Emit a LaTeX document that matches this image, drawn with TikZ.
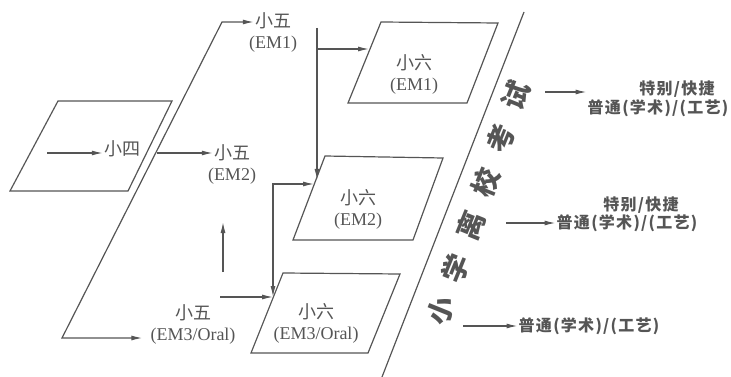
\documentclass[tikz,border=0pt]{standalone}
\usepackage{fontspec}
\setmainfont{Liberation Serif}
\newfontfamily\cjk{Noto Sans CJK SC}
\newfontfamily\cjkwide[LetterSpace=8]{Noto Sans CJK SC}
\usetikzlibrary{arrows.meta,positioning}
\definecolor{ink}{HTML}{555555}

\begin{document}
\begin{tikzpicture}[x=1pt,y=-1pt,
		line/.style={draw=ink, line width=1.2pt},
		arrow/.style={line, -{Latex[length=11pt,width=5pt]}},
		twoway/.style={line, {Latex[length=11pt,width=5pt]}-{Latex[length=11pt,width=5pt]}},
		lab/.style={text=ink, inner sep=1pt, font=\fontsize{18}{18}\selectfont\cjk},
		sub/.style={text=ink, inner sep=1pt, font=\fontsize{18}{18}\selectfont},
		route/.style={text=ink, inner sep=1pt, font=\fontsize{16}{16}\selectfont\cjkwide\bfseries},
		exam/.style={text=ink, inner sep=0pt, rotate=68, font=\fontsize{28}{28}\selectfont\cjk\bfseries},
	]
		\useasboundingbox (0,0) rectangle (731,377);
		
		% boxes
		\draw[line] (58,101) -- (172,101) -- (128,191) -- (10,191) -- cycle;
		\draw[line] (381,22) -- (498,23) -- (467,103) -- (348,103) -- cycle;
		\draw[line] (325,156) -- (443,158) -- (413,240) -- (293,240) -- cycle;
		\draw[line] (283,273) -- (400,274) -- (368,353) -- (251,353) -- cycle;
		\draw[line] (524,12) -- (382,377);
		
		% labels
		\node (p4) [lab] at (122,149) {小四};
		\node (p5a) [lab] at (273,21) {小五};
		\node (p5ae) [sub, below=4pt of p5a] {(EM1)};
		\node (p5b) [lab] at (232,153) {小五};
		\node (p5be) [sub, below=4pt of p5b] {(EM2)};
		\node (p5c) [lab] at (193,313) {小五};
		\node (p5ce) [sub, below=4pt of p5c] {(EM3/Oral)};
		\node (p6a) [lab] at (414,63) {小六};
		\node (p6ae) [sub, below=4pt of p6a] {(EM1)};
		\node (p6b) [lab] at (358,198) {小六};
		\node (p6be) [sub, below=4pt of p6b] {(EM2)};
		\node (p6c) [lab] at (316,312) {小六};
		\node (p6ce) [sub, below=4pt of p6c] {(EM3/Oral)};
		
		\foreach \ch [count=\i from 0] in {小,学,离,校,考,试}
			\node (ex\i) [exam] at ({441+15*\i},{311-43*\i}) {\ch};
		
		\node (r1a) [route] at (677,89) {特别/快捷};
		\node (r1b) [route] at (658,108) {普通(学术)/(工艺)};
		\node (r2a) [route] at (641,205) {特别/快捷};
		\node (r2b) [route] at (627,223) {普通(学术)/(工艺)};
		\node (r3) [route] at (589,326) {普通(学术)/(工艺)};
		
		% connectors
		\coordinate (in4) at (47,153);
		\coordinate (ztop) at (222,22);
		\coordinate (zbot) at (62,338);
		\coordinate (zmid) at (157,153);
		\coordinate (upa) at (223,272);
		\coordinate (upb) at (223,222);
		\coordinate (go3) at (220,297);
		\coordinate (in3) at (273,297);
		\coordinate (in2) at (314,184);
		\coordinate (top2) at (317,28);
		\coordinate (br1) at (317,49);
		\coordinate (in2b) at (317,180);
		\coordinate (in1) at (369,49);
		\coordinate (out1) at (545,92);
		\coordinate (out2) at (506,223);
		\coordinate (out3) at (463,326);
		
		\draw[arrow] (in4) -- (in4 -| p4.west);
		\draw[twoway] ([xshift=-7pt]zbot -| p5ce.west) -- (zbot) -- (ztop) -- (ztop -| p5a.west);
		\draw[arrow] (zmid) -- (zmid -| p5b.west);
		\draw[arrow] (upa) -- (upb);
		\draw[arrow] (go3) -- (in3);
		\draw[twoway] (in2) -| (in3);
		\draw[arrow] (top2) -- (in2b);
		\draw[arrow] (br1) -- (in1);
		
		\draw[arrow] (out1) -- (out1 -| r1b.west);
		\draw[arrow] (out2) -- (out2 -| r2b.west);
		\draw[arrow] (out3) -- (out3 -| r3.west);
	\end{tikzpicture}
\end{document}
